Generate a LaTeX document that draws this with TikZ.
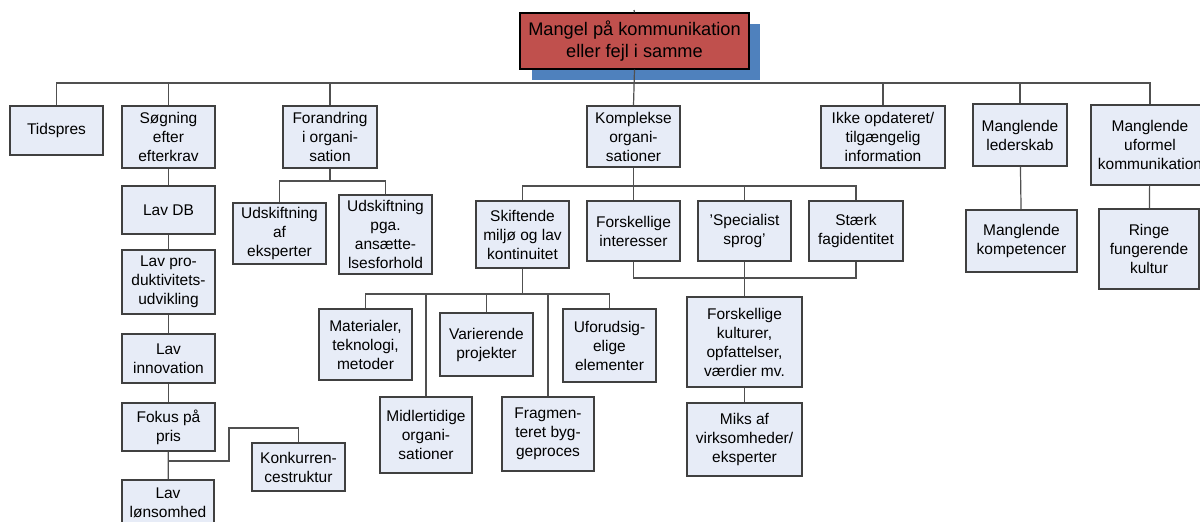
\documentclass[tikz,border=0pt]{standalone}
\usepackage{fontspec}
\setmainfont{Liberation Sans}
\definecolor{boxfill}{RGB}{231,236,247}
\definecolor{boxline}{RGB}{64,64,64}
\definecolor{rootfill}{RGB}{192,80,77}
\definecolor{rootshadow}{RGB}{79,129,189}
\definecolor{connline}{RGB}{80,80,80}
\tikzset{
  box/.style={draw=boxline,fill=boxfill,line width=0.6pt,inner sep=0pt,align=center,
    font=\fontsize{7.75pt}{9.5pt}\selectfont},
  rootbox/.style={draw=black,fill=rootfill,line width=0.6pt,inner sep=0pt,align=center,
    font=\fontsize{9.1pt}{11pt}\selectfont},
  conn/.style={draw=connline,line width=0.6pt}
}
% \bx{name}{x1}{y1}{x2}{y2}{text}: box given by its corners
\newcommand\bx[6]{\node[box,minimum width={(#4-#2)*0.5pt},minimum height={(#5-#3)*0.5pt}]
  (#1) at ({(#2+#4)/2},{(#3+#5)/2}) {#6};}
\begin{document}
\begin{tikzpicture}[x=0.5pt,y=-0.5pt]
\useasboundingbox (0,0) rectangle (1200,521);
\clip (0,0) rectangle (1200,521);

% bus heights
\coordinate (top) at (634,10);
\coordinate (bus) at (0,83);
\coordinate (fb) at (0,181);
\coordinate (kb) at (0,186);
\coordinate (bb) at (0,278);
\coordinate (sb) at (0,294);
\coordinate (kk1) at (229,461);
\coordinate (kk2) at (229,428);

% root with its shadow
\fill[rootshadow] (532,24) rectangle (760,80);
\node[rootbox,minimum width={229*0.5pt},minimum height={56*0.5pt}] (root) at (634.5,41) {Mangel på kommunikation\\eller fejl i samme};

% first level
\bx{tid}{10}{106}{103}{155}{Tidspres}
\bx{sog}{122}{106}{215}{168}{Søgning\\efter\\efterkrav}
\bx{forand}{283}{106}{377}{168}{Forandring\\i organi-\\sation}
\bx{kompl}{587}{106}{680}{167}{Komplekse\\organi-\\sationer}
\bx{ikke}{821}{106}{945}{168}{Ikke opdateret/\\tilgængelig\\information}
\bx{leder}{973}{104}{1067}{166}{Manglende\\lederskab}
\bx{uformel}{1091}{105}{1209}{185}{Manglende\\uformel\\kommunikation}

% chain below Søgning
\bx{lavdb}{122}{186}{215}{234}{Lav DB}
\bx{prod}{122}{250}{215}{314}{Lav pro-\\duktivitets-\\udvikling}
\bx{innov}{122}{334}{215}{383}{Lav\\innovation}
\bx{fokus}{122}{403}{215}{451}{Fokus på\\pris}
\bx{lon}{122}{480}{214}{526}{Lav\\lønsomhed}
\bx{konk}{252}{443}{345}{491}{Konkurren-\\cestruktur}

% below Forandring
\bx{udsk1}{233}{203}{326}{264}{Udskiftning\\af\\eksperter}
\bx{udsk2}{339}{195}{432}{274}{Udskiftning\\pga.\\ansætte-\\lsesforhold}

% below Komplekse
\bx{skift}{476}{201}{569}{268}{Skiftende\\miljø og lav\\kontinuitet}
\bx{forsk}{587}{201}{680}{261}{Forskellige\\interesser}
\bx{spec}{698}{201}{791}{261}{'Specialist\\sprog'}
\bx{staerk}{809}{201}{903}{261}{Stærk\\fagidentitet}
\bx{kult}{687}{297}{802}{387}{Forskellige\\kulturer,\\opfattelser,\\værdier mv.}
\bx{miks}{687}{403}{802}{476}{Miks af\\virksomheder/\\eksperter}

% below Skiftende
\bx{mat}{319}{309}{412}{380}{Materialer,\\teknologi,\\metoder}
\bx{midl}{380}{397}{472}{473}{Midlertidige\\organi-\\sationer}
\bx{var}{440}{313}{533}{376}{Varierende\\projekter}
\bx{frag}{502}{397}{594}{471}{Fragmen-\\teret byg-\\geproces}
\bx{ufor}{563}{309}{656}{382}{Uforudsig-\\elige\\elementer}

% right-hand branches
\bx{komp}{966}{210}{1077}{272}{Manglende\\kompetencer}
\bx{ringe}{1099}{209}{1199}{289}{Ringe\\fungerende\\kultur}

% connectors
\draw[conn] (top) -- (root.north);
\draw[conn] (root.south) -- (kompl.north);
\draw[conn] (tid.north) |- (uformel.north |- bus) -- (uformel.north);
\foreach \n in {sog,forand,ikke,leder}
  \draw[conn] (\n.north) -- (\n.north |- bus);

\draw[conn] (sog) -- (lavdb);
\draw[conn] (lavdb) -- (prod);
\draw[conn] (prod) -- (innov);
\draw[conn] (innov) -- (fokus);
\draw[conn] (fokus) -- (lon);
\draw[conn] (fokus.south |- kk1) -- (kk1) -- (kk2) -| (konk.north);

\draw[conn] (forand.south) -- (forand.south |- fb);
\draw[conn] (udsk1.north) |- (udsk2.north |- fb) -- (udsk2.north);

\draw[conn] (kompl.south) -- (kompl.south |- kb);
\draw[conn] (skift.north) |- (staerk.north |- kb) -- (staerk.north);
\draw[conn] (forsk.north) -- (forsk.north |- kb);
\draw[conn] (spec.north) -- (spec.north |- kb);
\draw[conn] (forsk.south) |- (staerk.south |- bb) -- (staerk.south);
\draw[conn] (spec.south) -- (kult.north);
\draw[conn] (kult) -- (miks);

\draw[conn] (skift.south) -- (skift.south |- sb);
\draw[conn] (mat.north) |- (ufor.north |- sb) -- (ufor.north);
\foreach \n in {midl,var,frag}
  \draw[conn] (\n.north) -- (\n.north |- sb);

\draw[conn] (leder) -- (komp);
\draw[conn] (uformel) -- (ringe);
\end{tikzpicture}
\end{document}
